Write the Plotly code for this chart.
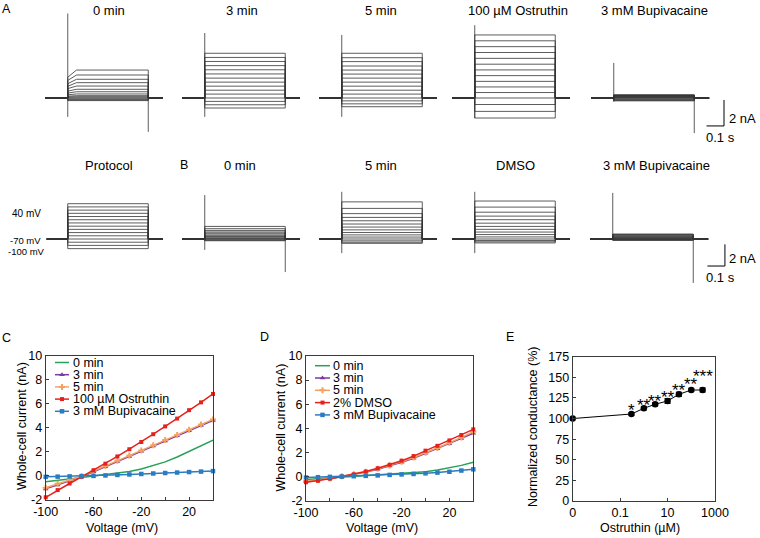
import math
import plotly.graph_objects as go

W, H = 760, 538
FONT = "Arial, Liberation Sans, sans-serif"

# ============================ DATA ============================
# Voltage protocol
STEP_MV = [-100, -90, -80, -70, -60, -50, -40, -30, -20, -10, 0, 10, 20, 30, 40]
HOLD_MV = -70
T_ON, T_OFF, T_END = 0.13, 0.59, 0.675      # s
T_RISE = 0.05                                 # s (early activation, 0 min)

# Panel A: steady-state step currents (nA), one per step voltage
A_0MIN = [-0.2, -0.15, -0.1, -0.05, 0.03, 0.1, 0.18, 0.31, 0.48, 0.67, 0.92, 1.18, 1.44, 1.77, 2.15]
A_0MIN_EARLY = [-0.2, -0.15, -0.1, -0.05, 0.02, 0.08, 0.14, 0.25, 0.38, 0.53, 0.72, 0.9, 1.1, 1.35, 1.6]
A_3MIN = [-0.77, -0.52, -0.26, 0.0, 0.3, 0.6, 0.91, 1.22, 1.53, 1.85, 2.17, 2.49, 2.81, 3.12, 3.44]
A_5MIN = [-0.67, -0.45, -0.22, 0.0, 0.3, 0.6, 0.91, 1.22, 1.53, 1.84, 2.15, 2.46, 2.8, 3.1, 3.44]
A_OST = [-1.54, -1.03, -0.5, 0.0, 0.42, 0.85, 1.28, 1.72, 2.16, 2.6, 3.05, 3.5, 3.95, 4.4, 4.85]
A_BUP = [-0.22, -0.18, -0.14, -0.1, -0.05, 0.0, 0.03, 0.06, 0.09, 0.12, 0.15, 0.18, 0.2, 0.22, 0.25]

# Panel B: steady-state step currents (nA)
B_0MIN = [-0.16, -0.12, -0.06, -0.04, 0.02, 0.1, 0.18, 0.24, 0.34, 0.46, 0.55, 0.65, 0.79, 0.95, 1.16]
B_5MIN = [-0.4, -0.3, -0.17, 0.0, 0.18, 0.38, 0.6, 0.84, 1.1, 1.38, 1.68, 1.99, 2.34, 2.82, 3.42]
B_DMSO = [-0.36, -0.26, -0.14, 0.0, 0.19, 0.41, 0.64, 0.89, 1.16, 1.46, 1.78, 2.11, 2.47, 2.94, 3.5]
B_BUP = [-0.12, -0.1, -0.08, -0.05, -0.03, 0.0, 0.04, 0.08, 0.13, 0.18, 0.24, 0.3, 0.36, 0.41, 0.46]

# Capacitive transients (nA): [onset high, onset low, offset high, offset low]
A_0MIN_TR = [6.5, -1.45, 0.2, -2.6]
A_3MIN_TR = [5.0, -1.45, 0.0, 0.0]
A_5MIN_TR = [4.85, -1.45, 0.0, 0.0]
A_OST_TR = [5.6, -1.55, 0.0, 0.0]
A_BUP_TR = [2.7, -0.3, 0.1, -2.7]
B_0MIN_TR = [4.05, -1.0, 0.3, -3.05]
B_5MIN_TR = [4.35, -1.3, 0.0, 0.0]
B_DMSO_TR = [4.35, -1.3, 0.0, 0.0]
B_BUP_TR = [4.25, -0.1, 0.2, -4.05]

SCALE_NA, SCALE_S = 2, 0.1

# Panel C: I-V (nA)
IV_MV = STEP_MV
C_0MIN = [-0.5, -0.4, -0.28, -0.15, -0.03, 0.08, 0.2, 0.35, 0.55, 0.82, 1.15, 1.55, 2.0, 2.45, 2.95]
C_3MIN = [-1.1, -0.77, -0.43, -0.1, 0.33, 0.75, 1.18, 1.6, 2.03, 2.46, 2.89, 3.32, 3.74, 4.17, 4.6]
C_5MIN = [-1.0, -0.68, -0.36, -0.05, 0.38, 0.8, 1.24, 1.67, 2.1, 2.53, 2.96, 3.39, 3.82, 4.25, 4.68]
C_OST = [-1.8, -1.2, -0.65, -0.1, 0.45, 1.0, 1.6, 2.2, 2.8, 3.45, 4.1, 4.75, 5.45, 6.1, 6.8]
C_BUP = [-0.1, -0.08, -0.06, -0.04, -0.02, 0.02, 0.06, 0.1, 0.14, 0.18, 0.22, 0.26, 0.3, 0.34, 0.38]
C_NAMES = ["0 min", "3 min", "5 min", "100 \u00b5M Ostruthin", "3 mM Bupivacaine"]

# Panel D: I-V (nA)
D_0MIN = [-0.25, -0.18, -0.1, -0.03, 0.02, 0.08, 0.14, 0.2, 0.27, 0.33, 0.4, 0.55, 0.72, 0.93, 1.18]
D_3MIN = [-0.4, -0.3, -0.15, 0.0, 0.17, 0.37, 0.6, 0.88, 1.18, 1.52, 1.93, 2.3, 2.72, 3.15, 3.59]
D_5MIN = [-0.38, -0.28, -0.13, 0.02, 0.2, 0.4, 0.64, 0.92, 1.24, 1.58, 1.98, 2.38, 2.8, 3.25, 3.72]
D_DMSO = [-0.47, -0.35, -0.18, 0.0, 0.19, 0.42, 0.69, 0.98, 1.32, 1.7, 2.15, 2.55, 3.0, 3.45, 3.92]
D_BUP = [-0.08, -0.05, -0.02, 0.0, 0.03, 0.06, 0.1, 0.14, 0.18, 0.22, 0.27, 0.33, 0.4, 0.5, 0.6]
D_NAMES = ["0 min", "3 min", "5 min", "2% DMSO", "3 mM Bupivacaine"]

IV_XTICKS = [-100, -60, -20, 20]
IV_XTICKTEXT = ["-100", "-60", "-20", "20"]
IV_YTICKS = [-2, 0, 2, 4, 6, 8, 10]
IV_YTICKTEXT = ["-2", "0", "2", "4", "6", "8", "10"]

# Panel E: concentration-response
E_CONC = [0, 0.3, 1, 3, 10, 30, 100, 300]
E_COND = [100, 105.5, 112.4, 117.3, 121.3, 129.4, 134.6, 134.6]
E_SEM = [0, 1.5, 2, 2, 3, 2.5, 2, 2.5]
E_STARS = ["", "*", "**", "**", "**", "**", "**", "***"]
E_ZERO_AT = 0.001
E_XTICKS = [0.001, 0.1, 10, 1000]
E_XTICKTEXT = ["0", "0.1", "10", "1000"]

# ============================ STYLE / LAYOUT ============================
TRACE_COLOR = "#333333"
AXIS_COLOR = "#3a3a3a"
SER_STYLE = [
    dict(color="#26a259", symbol=None, size=0),
    dict(color="#7b3aa6", symbol="triangle-up", size=5),
    dict(color="#f4a261", symbol="cross", size=5),
    dict(color="#e4211c", symbol="square", size=4),
    dict(color="#2b7cc0", symbol="square", size=4.5),
]
ROWS = {"A": dict(top=5, bottom=140, base=98, pxnA=13.0),
        "B": dict(top=185, bottom=290, base=239, pxnA=10.85)}
PX_PER_S = 175.0
PANEL_W = 118
MV_PX = 0.321
STAR_SHIFT = [0, 3.3, 3.3, 2.6, 3.7, 3.6, 5.3, 13.7]
STAR_SIZE = 17


def xdom(a, b):
    return [a / W, b / W]


def ydom(top, bottom):
    return [1 - bottom / H, 1 - top / H]


def ax_key(i, k):
    return f"{k}axis" if i == 1 else f"{k}axis{i}"


def ax_ref(i, k):
    return k if i == 1 else f"{k}{i}"


fig = go.Figure()
layout_axes = {}
shapes = []
annotations = []


def hidden_axes(i, x0, wpx, top, bottom, xr, yr):
    layout_axes[ax_key(i, "x")] = dict(domain=xdom(x0, x0 + wpx), range=xr, visible=False,
                                       anchor=ax_ref(i, "y"), fixedrange=True, automargin=False)
    layout_axes[ax_key(i, "y")] = dict(domain=ydom(top, bottom), range=yr, visible=False,
                                       anchor=ax_ref(i, "x"), fixedrange=True, automargin=False)


def add_step_panel(i, row, x0, wpx, steady, early, tr):
    r = ROWS[row]
    yr = [-(r["bottom"] - r["base"]) / r["pxnA"], (r["base"] - r["top"]) / r["pxnA"]]
    hidden_axes(i, x0, wpx, r["top"], r["bottom"], [0, wpx / PX_PER_S], yr)
    xs, ys = [], []
    for k, cur in enumerate(steady):
        if early is None:
            xs += [0, T_ON, T_ON, T_OFF, T_OFF, T_END, None]
            ys += [0, 0, cur, cur, 0, 0, None]
        else:
            xs += [0, T_ON, T_ON, T_ON + T_RISE, T_OFF, T_OFF, T_END, None]
            ys += [0, 0, early[k], cur, cur, 0, 0, None]
    xs += [T_ON, T_ON, None, T_OFF, T_OFF]
    ys += [tr[1], tr[0], None, tr[3], tr[2]]
    fig.add_trace(go.Scatter(x=xs, y=ys, mode="lines", line=dict(color=TRACE_COLOR, width=0.8),
                             xaxis=ax_ref(i, "x"), yaxis=ax_ref(i, "y"), hoverinfo="skip",
                             showlegend=False))


# ---- Panel A ----
add_step_panel(1, "A", 45, PANEL_W, A_0MIN, A_0MIN_EARLY, A_0MIN_TR)
add_step_panel(2, "A", 182, PANEL_W, A_3MIN, None, A_3MIN_TR)
add_step_panel(3, "A", 319, PANEL_W, A_5MIN, None, A_5MIN_TR)
add_step_panel(4, "A", 452, PANEL_W, A_OST, None, A_OST_TR)
add_step_panel(5, "A", 591, 150, A_BUP, None, A_BUP_TR)

# ---- Protocol ----
rb = ROWS["B"]
yr_p = [HOLD_MV - (rb["bottom"] - rb["base"]) / MV_PX, HOLD_MV + (rb["base"] - rb["top"]) / MV_PX]
hidden_axes(6, 45, PANEL_W, rb["top"], rb["bottom"], [0, PANEL_W / PX_PER_S], yr_p)
pxs, pys = [], []
for v in STEP_MV:
    pxs += [0.01, T_ON, T_ON, T_OFF, T_OFF, T_END, None]
    pys += [HOLD_MV, HOLD_MV, v, v, HOLD_MV, HOLD_MV, None]
fig.add_trace(go.Scatter(x=pxs, y=pys, mode="lines", line=dict(color=TRACE_COLOR, width=0.8),
                         xaxis="x6", yaxis="y6", hoverinfo="skip", showlegend=False))

# ---- Panel B ----
add_step_panel(7, "B", 182, PANEL_W, B_0MIN, None, B_0MIN_TR)
add_step_panel(8, "B", 319, PANEL_W, B_5MIN, None, B_5MIN_TR)
add_step_panel(9, "B", 452, PANEL_W, B_DMSO, None, B_DMSO_TR)
add_step_panel(10, "B", 590, 150, B_BUP, None, B_BUP_TR)

# ---- Scale bars ----
for i, tc, yc in [(5, 0.76, -2.15), (10, 0.771, -2.49)]:
    for (x0, y0, x1, y1) in [(tc - SCALE_S, yc, tc, yc), (tc, yc, tc, yc + SCALE_NA)]:
        shapes.append(dict(type="line", xref=ax_ref(i, "x"), yref=ax_ref(i, "y"),
                           x0=x0, y0=y0, x1=x1, y1=y1, line=dict(color="black", width=1)))

# ---- I-V panels C & D ----
def iv_axes(i, x0, x1, top, bottom):
    common = dict(showline=True, mirror=True, linecolor=AXIS_COLOR, linewidth=1,
                  ticks="inside", ticklen=3, tickcolor=AXIS_COLOR, showgrid=False,
                  zeroline=False, tickfont=dict(size=12.5, color="black", family=FONT),
                  fixedrange=True, automargin=False)
    layout_axes[ax_key(i, "x")] = dict(common, domain=xdom(x0, x1), range=[-100, 40],
                                       tickvals=IV_XTICKS, ticktext=IV_XTICKTEXT,
                                       anchor=ax_ref(i, "y"),
                                       minor=dict(dtick=20, tick0=0, ticks="inside", ticklen=3,
                                                  tickcolor=AXIS_COLOR))
    layout_axes[ax_key(i, "y")] = dict(common, domain=ydom(top, bottom), range=[-2, 10],
                                       tickvals=IV_YTICKS, ticktext=IV_YTICKTEXT,
                                       anchor=ax_ref(i, "x"))


def iv_series(i, series):
    for s, sty in zip(series, SER_STYLE):
        mode = "lines" if sty["symbol"] is None else "lines+markers"
        fig.add_trace(go.Scatter(x=IV_MV, y=s, mode=mode,
                                 line=dict(color=sty["color"], width=1.5),
                                 marker=dict(symbol=sty["symbol"] or "circle", size=sty["size"],
                                             color=sty["color"], line=dict(width=0)),
                                 xaxis=ax_ref(i, "x"), yaxis=ax_ref(i, "y"),
                                 cliponaxis=False, hoverinfo="skip", showlegend=False))


iv_axes(11, 45.7, 213, 355.5, 499.7)
iv_series(11, [C_0MIN, C_3MIN, C_5MIN, C_OST, C_BUP])
iv_axes(12, 306, 473.3, 356, 500.7)
iv_series(12, [D_0MIN, D_3MIN, D_5MIN, D_DMSO, D_BUP])

# ---- Panel E ----
common_e = dict(showline=True, mirror=True, linecolor=AXIS_COLOR, linewidth=1,
                ticks="inside", ticklen=3, tickcolor=AXIS_COLOR, showgrid=False,
                zeroline=False, tickfont=dict(size=12.5, color="black", family=FONT),
                fixedrange=True, automargin=False)
layout_axes["xaxis13"] = dict(common_e, type="log", domain=xdom(572.7, 715), range=[-3, 3],
                              tickvals=E_XTICKS, ticktext=E_XTICKTEXT, anchor="y13")
layout_axes["yaxis13"] = dict(common_e, domain=ydom(356.7, 501), range=[0, 175],
                              tickvals=list(range(0, 176, 25)), anchor="x13")
e_x = [E_ZERO_AT if c == 0 else c for c in E_CONC]
fig.add_trace(go.Scatter(x=e_x, y=E_COND, mode="lines+markers",
                         line=dict(color="black", width=1),
                         marker=dict(symbol="circle", size=6.5, color="black"),
                         error_y=dict(type="data", array=E_SEM, color="black", thickness=1, width=3),
                         xaxis="x13", yaxis="y13", cliponaxis=False, hoverinfo="skip",
                         showlegend=False))
for xv, yv, st, sh in zip(e_x, E_COND, E_STARS, STAR_SHIFT):
    if st:
        annotations.append(dict(x=math.log10(xv), y=yv, xref="x13", yref="y13", text=st,
                                showarrow=False, yanchor="middle", yshift=sh,
                                font=dict(size=STAR_SIZE, color="black", family=FONT)))

# ---- Manual legends (pixel overlay axis) ----
layout_axes["xaxis14"] = dict(domain=[0, 1], range=[0, W], visible=False, fixedrange=True,
                              anchor="y14", automargin=False)
layout_axes["yaxis14"] = dict(domain=[0, 1], range=[H, 0], visible=False, fixedrange=True,
                              anchor="x14", automargin=False)
LEGENDS = [(C_NAMES, 55, 69, 70.5, 362.5, 12.2), (D_NAMES, 315, 330, 331, 365.7, 12.3)]
for names, lx0, lx1, tx, y0, dy in LEGENDS:
    for k, (nm, sty) in enumerate(zip(names, SER_STYLE)):
        yy = y0 + k * dy
        fig.add_trace(go.Scatter(x=[lx0, lx1], y=[yy, yy], mode="lines",
                                 line=dict(color=sty["color"], width=1.5),
                                 xaxis="x14", yaxis="y14", hoverinfo="skip", showlegend=False))
        if sty["symbol"]:
            fig.add_trace(go.Scatter(x=[(lx0 + lx1) / 2], y=[yy], mode="markers",
                                     marker=dict(symbol=sty["symbol"], size=sty["size"],
                                                 color=sty["color"], line=dict(width=0)),
                                     xaxis="x14", yaxis="y14", hoverinfo="skip",
                                     showlegend=False))
        annotations.append(dict(x=tx / W, y=1 - yy / H, xref="paper", yref="paper", text=nm,
                                showarrow=False, xanchor="left", yanchor="middle",
                                font=dict(size=12.5, color="black", family=FONT)))


# ---- Text labels ----
def txt(s, x, y, size=13, xanchor="center", angle=0):
    annotations.append(dict(x=x / W, y=1 - y / H, xref="paper", yref="paper", text=s,
                            showarrow=False, xanchor=xanchor, yanchor="middle", textangle=angle,
                            font=dict(size=size, color="black", family=FONT)))


for s, x in [("0 min", 108.5), ("3 min", 242), ("5 min", 380.5),
             ("100 \u00b5M Ostruthin", 518), ("3 mM Bupivacaine", 654)]:
    txt(s, x, 10.5)
for s, x in [("Protocol", 109), ("0 min", 240), ("5 min", 380.5), ("DMSO", 515),
             ("3 mM Bupivacaine", 656)]:
    txt(s, x, 165.5)
for s, x, y in [("A", 7, 8.5), ("B", 183.5, 164.5), ("C", 6.5, 337.5), ("D", 264, 336.5),
                ("E", 509.5, 336.5)]:
    txt(s, x, y, size=12.5)
txt("40 mV", 26.5, 213.5, size=10)
txt("-70 mV", 25, 240.5, size=9.5)
txt("-100 mV", 26.5, 251, size=9.5)
txt("2 nA", 727, 118, xanchor="left")
txt("0.1 s", 720, 137)
txt("2 nA", 727, 258, xanchor="left")
txt("0.1 s", 720, 277.5)
txt("Whole-cell current (nA)", 22, 426, size=12.5, angle=-90)
txt("Whole-cell current (nA)", 280.5, 428, size=12.5, angle=-90)
txt("Normalized conductance (%)", 533, 427, size=12.5, angle=-90)
txt("Voltage (mV)", 121.5, 528, size=12.5)
txt("Voltage (mV)", 381.5, 528, size=12.5)
txt("Ostruthin (\u00b5M)", 640, 528, size=12.5)

fig.update_layout(width=W, height=H,
                  margin=dict(l=0, r=0, t=0, b=0, pad=0, autoexpand=False),
                  paper_bgcolor="white", plot_bgcolor="rgba(0,0,0,0)", showlegend=False,
                  font=dict(family=FONT, color="black"), shapes=shapes,
                  annotations=annotations, **layout_axes)
fig.write_html("out.html", config={"displayModeBar": False, "staticPlot": True},
               post_script="document.body.style.margin='0px';document.body.style.overflow='hidden';")
